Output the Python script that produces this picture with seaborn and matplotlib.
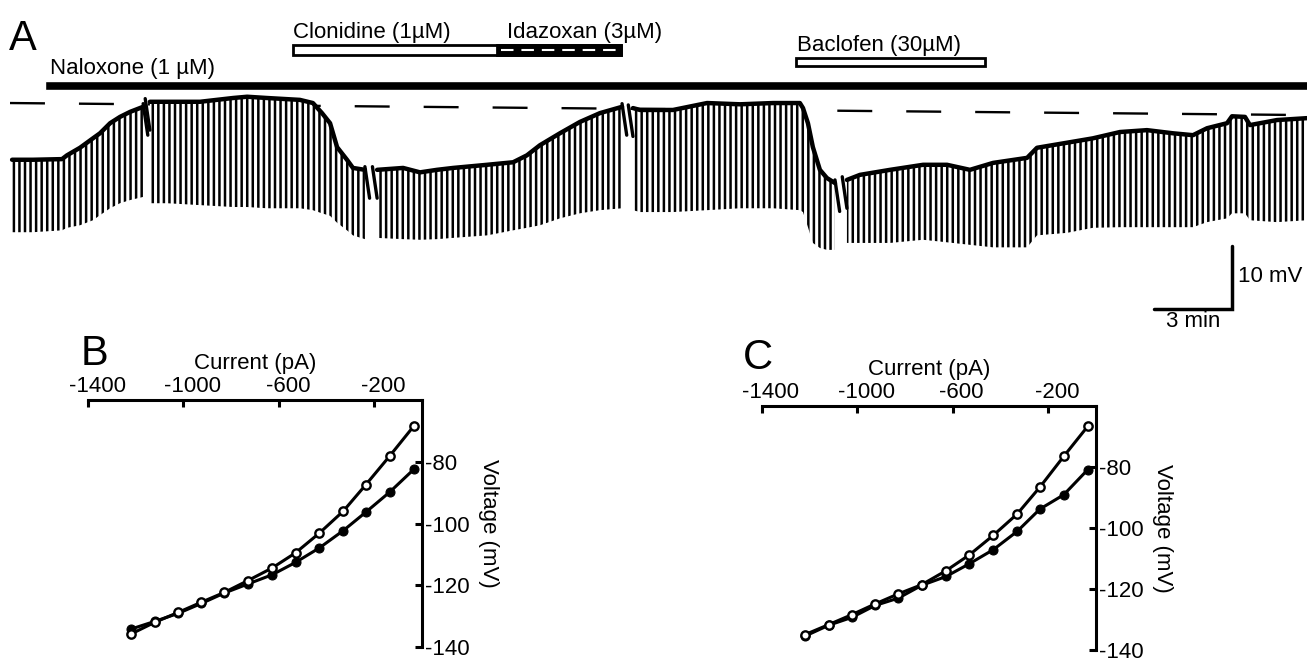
#Figura: registro de membrana (A) e curvas I-V (B, C)

#Imports
import pandas as pd
import matplotlib
matplotlib.use('Agg')
import matplotlib.pyplot as plt
import matplotlib.transforms as mtransforms
import seaborn as sns

#Dados do traçado A: tempo (min), topo do traçado (mV), ponta dos pulsos (mV)
seg1_t = [0.08, 0.88, 2.0, 2.19, 2.69, 3.19, 3.46, 3.85, 4.23, 4.62, 5.12]
seg1_top = [-69.0, -69.0, -68.9, -68.3, -67.1, -65.6, -64.8, -63.2, -62.2, -61.4, -60.6]
seg1_tip = [-80.5, -80.5, -80.2, -79.8, -79.4, -78.6, -77.8, -76.7, -75.9, -75.4, -74.9]

seg2_t = [5.38, 6.04, 7.31, 8.58, 9.12, 9.88, 11.15, 11.65, 12.0, 12.31, 12.58, 12.96, 13.19, 13.65]
seg2_top = [-59.8, -59.8, -59.8, -59.2, -59.0, -59.2, -59.5, -60.0, -61.6, -63.2, -67.0, -69.0, -70.3, -70.6]
seg2_tip = [-75.9, -75.9, -76.2, -76.5, -76.5, -76.7, -76.7, -77.0, -77.5, -77.9, -79.0, -80.2, -81.0, -81.6]

seg3_t = [14.12, 15.12, 15.77, 16.42, 17.04, 18.35, 19.35, 19.88, 20.38, 21.15, 21.92, 22.69, 23.54]
seg3_top = [-70.6, -70.3, -71.0, -70.6, -70.3, -69.8, -69.4, -68.3, -66.7, -64.8, -63.0, -61.6, -60.6]
seg3_tip = [-81.4, -81.6, -81.7, -81.6, -81.4, -81.0, -80.2, -79.8, -79.4, -78.3, -77.5, -77.0, -76.7]

seg4_t = [23.96, 24.23, 25.5, 26.81, 28.08, 29.35, 30.38, 30.5, 30.69, 30.88, 31.15, 31.42, 31.73]
seg4_top = [-60.8, -61.1, -61.1, -60.0, -60.2, -60.0, -60.0, -60.8, -63.2, -67.0, -70.6, -71.9, -72.7]
seg4_tip = [-77.0, -77.3, -77.3, -77.0, -76.7, -76.7, -77.0, -77.3, -79.7, -82.2, -83.0, -83.3, -83.3]

seg5_t = [32.19, 32.69, 33.85, 35.12, 36.04, 36.92, 37.81, 39.12, 39.5, 40.65, 41.65, 42.69,
          43.73, 44.73, 45.5, 46.04, 46.81, 47.0, 47.5, 47.69, 48.73, 49.88]
seg5_top = [-72.2, -71.4, -70.6, -69.8, -69.8, -70.6, -69.5, -68.7, -67.1, -66.3, -65.6, -64.6,
            -64.3, -64.8, -65.1, -64.0, -63.2, -62.1, -62.2, -63.5, -62.7, -62.4]
seg5_tip = [-82.2, -82.2, -82.2, -81.7, -82.1, -82.5, -82.9, -82.9, -81.0, -80.6, -79.8, -79.7,
            -79.7, -79.7, -79.7, -78.9, -78.3, -77.5, -77.5, -78.6, -78.9, -78.6]

#Linha de referência tracejada (início e fim)
ref_t = [0.0, 49.6]
ref_v = [-60.0, -61.9]

#Aplicação de drogas (min)
naloxone = (1.35, 50.0)
clonidine = (10.88, 23.5)
idazoxan = (18.73, 23.5)
baclofen = (30.23, 37.5)

#Curvas I-V (B e C)
corrente = [-35, -135, -235, -330, -430, -530, -628, -730, -828, -925, -1022, -1120, -1220]
b_aberto = [-68.5, -78.1, -87.4, -96.0, -103.1, -109.5, -114.4, -118.5, -122.3, -125.5, -128.8, -132.0, -135.8]
b_cheio = [-82.5, -89.8, -96.3, -102.3, -107.9, -112.6, -116.6, -119.6, -122.5, -125.9, -129.1, -131.7, -134.2]
c_aberto = [-66.7, -76.5, -86.6, -95.4, -102.4, -108.8, -114.0, -118.6, -121.6, -124.9, -128.4, -131.7, -135.0]
c_cheio = [-80.9, -89.1, -93.8, -101.1, -107.1, -111.7, -115.9, -118.8, -123.0, -125.4, -129.3, -131.9, -135.5]

#Estilo
sns.set_theme(style='white')
plt.rcParams['font.family'] = ['Liberation Sans', 'DejaVu Sans']
plt.rcParams['axes.unicode_minus'] = False
plt.rcParams['hatch.linewidth'] = 1.8
for k in ['text.color', 'axes.labelcolor', 'xtick.color', 'ytick.color', 'axes.edgecolor']:
    plt.rcParams[k] = 'black'
fs = 16

fig = plt.figure(figsize=(13.07, 6.62), dpi=100)

#Painel A
ax = fig.add_axes([0, 0, 1, 1])
segs = [(seg1_t, seg1_top, seg1_tip), (seg2_t, seg2_top, seg2_tip), (seg3_t, seg3_top, seg3_tip),
        (seg4_t, seg4_top, seg4_tip), (seg5_t, seg5_top, seg5_tip)]

ax.plot(ref_t, ref_v, color='black', lw=1.7, linestyle=(0, (14.8, 14.4)), zorder=1)

linhas = []
for i, (t, top, tip) in enumerate(segs):
    ax.fill_between(t, tip, top, facecolor='white', edgecolor='black', hatch='|||', linewidth=0, zorder=2)
    linhas += [{'seg': i, 't': a, 'v': b} for a, b in zip(t, top)]
df_trace = pd.DataFrame(linhas)
sns.lineplot(data=df_trace, x='t', y='v', units='seg', estimator=None, sort=False,
             color='black', lw=3.2, ax=ax, zorder=3)

#Quebras do registro
for (t0, top0, _), (t1, top1, _) in zip(segs[:-1], segs[1:]):
    ax.plot([t0[-1], t0[-1] + 0.18], [top0[-1] + 0.5, top0[-1] - 4.5], color='black', lw=2.4, zorder=3)
    ax.plot([t1[0] - 0.18, t1[0]], [top1[0] + 0.5, top1[0] - 4.5], color='black', lw=2.4, zorder=3)

#Barras das drogas
ax.barh(-57.2, naloxone[1] - naloxone[0], left=naloxone[0], height=1.55, color='black')
ax.barh(-51.6, clonidine[1] - clonidine[0], left=clonidine[0], height=1.5,
        facecolor='white', edgecolor='black', lw=2)
ax.barh(-51.6, idazoxan[1] - idazoxan[0], left=idazoxan[0], height=1.5,
        facecolor='black', edgecolor='black', lw=2)
ax.plot([idazoxan[0] + 0.15, idazoxan[1] - 0.15], [-51.6, -51.6], color='white', lw=1.5,
        linestyle=(0, (6.0, 3.8)))
ax.barh(-53.5, baclofen[1] - baclofen[0], left=baclofen[0], height=1.27,
        facecolor='white', edgecolor='black', lw=2)

ax.text(naloxone[0] + 0.2, -55.4, 'Naloxone (1 µM)', fontsize=fs, va='baseline')
ax.text(clonidine[0], -49.7, 'Clonidine (1µM)', fontsize=fs, va='baseline')
ax.text(idazoxan[0] + 0.4, -49.7, 'Idazoxan (3µM)', fontsize=fs, va='baseline')
ax.text(baclofen[0] + 0.05, -51.7, 'Baclofen (30µM)', fontsize=fs, va='baseline')

#Barra de escala
ax.plot([44.0, 47.0, 47.0], [-92.7, -92.7, -82.7], color='black', lw=2.5, solid_joinstyle='miter')
ax.text(47.25, -87.5, '10 mV', fontsize=fs, va='center', ha='left')
ax.text(45.5, -94.6, '3 min', fontsize=fs, va='center', ha='center')

ax.set_xlim(-0.385, 49.885)
ax.set_ylim(-148.7, -43.65)
ax.axis('off')

#Paineis B e C
def painel_iv(rect, v_aberto, v_cheio):
    a = fig.add_axes(rect)
    a.set_facecolor('none')
    sns.lineplot(x=corrente, y=v_cheio, marker='o', color='black', lw=2.2, ms=6.5,
                 mfc='black', mec='black', ax=a)
    sns.lineplot(x=corrente, y=v_aberto, marker='o', color='black', lw=2.2, ms=6,
                 mfc='white', mec='black', mew=1.7, ax=a)
    a.set_xlim(-1400, 0)
    a.set_ylim(-140, -60)
    for s in ['left', 'bottom']:
        a.spines[s].set_visible(False)
    for s in ['top', 'right']:
        a.spines[s].set_visible(True)
        a.spines[s].set_linewidth(2.2)
    a.xaxis.tick_top()
    a.xaxis.set_label_position('top')
    a.yaxis.tick_right()
    a.yaxis.set_label_position('right')
    a.set_xticks([-1400, -1000, -600, -200])
    a.set_yticks([-80, -100, -120, -140])
    a.tick_params(direction='in', length=5, width=2.2, labelsize=fs, pad=2)
    a.set_xlabel('Current (pA)', fontsize=fs, labelpad=5)
    a.set_ylabel('Voltage (mV)', fontsize=fs, rotation=270, va='bottom', labelpad=6)
    off = mtransforms.ScaledTranslation(9 / 100, 0, fig.dpi_scale_trans)
    for lab in a.get_xticklabels():
        lab.set_transform(lab.get_transform() + off)
    return a

painel_iv([88 / 1307, 1 - 647 / 662, 334 / 1307, 247 / 662], b_aberto, b_cheio)
painel_iv([761.7 / 1307, 1 - 650 / 662, 334.3 / 1307, 244 / 662], c_aberto, c_cheio)

#Letras dos paineis
fig.text(9 / 1307, 1 - 50 / 662, 'A', fontsize=30, va='baseline')
fig.text(81 / 1307, 1 - 365 / 662, 'B', fontsize=30, va='baseline')
fig.text(743 / 1307, 1 - 369 / 662, 'C', fontsize=30, va='baseline')

fig.savefig('out.png', dpi=100)
